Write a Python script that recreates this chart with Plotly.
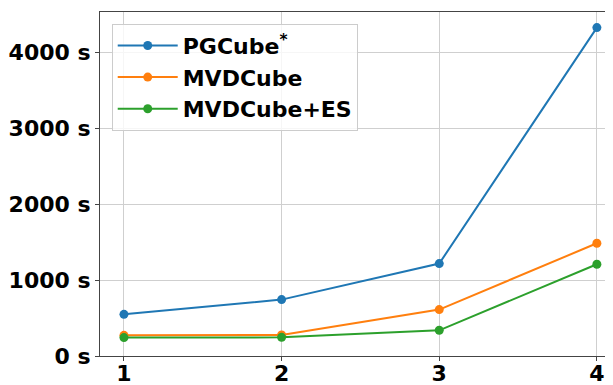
import plotly.graph_objects as go

# Значения (секунды).
steps = [1, 2, 3, 4]
pgcube = [550, 744, 1219, 4332]
mvdcube = [273, 277, 612, 1487]
mvdcube_es = [243, 246, 339, 1210]
y_ticks = [0, 1000, 2000, 3000, 4000]
y_labels = [f"{v} s" for v in y_ticks]

SERIES = (
    ("PGCube<sup>*</sup>", pgcube, "#1f77b4"),
    ("MVDCube", mvdcube, "#ff7f0e"),
    ("MVDCube+ES", mvdcube_es, "#2ca02c"),
)

FONT = "DejaVu Sans"
GRID = "#cfcfcf"
TEXT_SIZE = 22

fig = go.Figure()
for name, values, color in SERIES:
    fig.add_scatter(
        x=steps,
        y=values,
        mode="lines+markers",
        name=name,
        legendgroup=name,
        line={"color": color, "width": 2},
        marker={"color": color, "size": 9},
    )

axis_common = dict(
    showgrid=True,
    gridcolor=GRID,
    gridwidth=1,
    showline=True,
    linecolor="#444444",
    linewidth=1,
    mirror=True,
    ticks="outside",
    ticklen=4,
    tickcolor="#444444",
    zeroline=False,
    tickfont={"family": FONT, "size": TEXT_SIZE, "color": "black", "weight": "bold"},
)

# Страница сдвигает рисунок на 8 px (отступ body), поэтому поля уже с учётом сдвига.
fig.update_xaxes(range=[0.848, 4.153], tickvals=steps, ticklabelstandoff=-6, **axis_common)
fig.update_yaxes(
    range=[0, 4538],
    tickvals=y_ticks,
    ticktext=y_labels,
    **axis_common,
)

fig.update_layout(
    width=613,
    height=385,
    margin={"l": 92, "r": 0, "t": 4, "b": 37, "autoexpand": False},
    plot_bgcolor="white",
    paper_bgcolor="white",
    font={"family": FONT, "color": "black"},
    showlegend=True,
    legend={
        "x": 0.0225,
        "y": 0.966,
        "xanchor": "left",
        "yanchor": "top",
        "bgcolor": "rgba(255,255,255,0.8)",
        "bordercolor": "#cccccc",
        "borderwidth": 1,
        "tracegroupgap": 0,
        "itemwidth": 60,
        "font": {"family": FONT, "size": TEXT_SIZE, "color": "black", "weight": "bold"},
    },
)

fig.write_html("out.html")
